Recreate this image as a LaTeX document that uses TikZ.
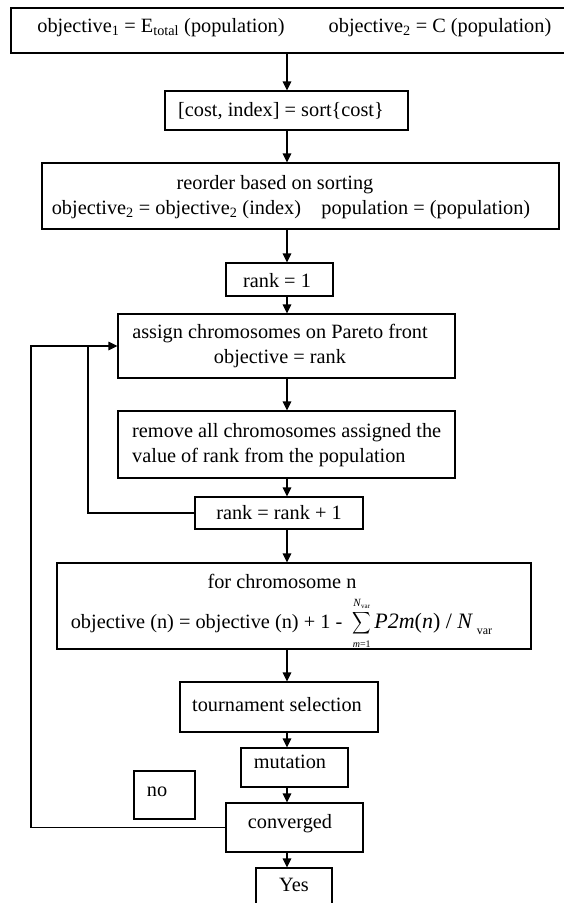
\documentclass[tikz,border=0pt]{standalone}
\usepackage{fontspec}
\usepackage{amsmath}
\usepackage{graphicx}
\setmainfont{Liberation Serif}
\usetikzlibrary{arrows.meta}

\tikzset{
  box/.style={draw, line width=1.1pt, rectangle, inner sep=0pt},
  txt/.style={inner sep=0pt, font=\fontsize{20.3}{25}\selectfont},
  flow/.style={line width=1.1pt, -{Triangle[length=9pt,width=8.5pt]}},
  link/.style={line width=1.1pt},
}

% summation with its limits, sized to sit in a text line
\newcommand{\sumvar}{$\mathop{\vcenter{\hbox{\scalebox{0.62}[0.74]{$\displaystyle\sum$}}}}\limits_{\mbox{\fontsize{10}{10}\selectfont\textit{m}=1}}^{\mbox{\fontsize{11}{11}\selectfont\textit{N}\raisebox{-0.35ex}{\fontsize{7}{7}\selectfont var}}}$}

\begin{document}
\begin{tikzpicture}[x=1pt,y=-1pt]
\useasboundingbox (0,0) rectangle (563,903);
\fill[white] (0,0) rectangle (563,903);

% main vertical axis and loop columns
\coordinate (axis) at (287,0);
\coordinate (outer) at (31,346);
\coordinate (inner) at (88,346);

% boxes
\node[box, minimum width=559pt, minimum height=45pt] (top)   at (290.5,30.5) {};
\node[box, minimum width=243pt, minimum height=39pt] (sort)  at (286.5,110.5) {};
\node[box, minimum width=517pt, minimum height=66pt] (reord) at (300.5,196) {};
\node[box, minimum width=107pt, minimum height=33pt] (rone)  at (279.5,279.5) {};
\node[box, minimum width=337pt, minimum height=64pt] (assign) at (286.5,346) {};
\node[box, minimum width=337pt, minimum height=67pt] (remove) at (286.5,444.5) {};
\node[box, minimum width=168pt, minimum height=32pt] (rinc)  at (279,513) {};
\node[box, minimum width=474pt, minimum height=86pt] (chrom) at (294,606) {};
\node[box, minimum width=198pt, minimum height=50pt] (tourn) at (279,707) {};
\node[box, minimum width=107pt, minimum height=39pt] (mut)   at (294.5,767.5) {};
\node[box, minimum width=61pt,  minimum height=48pt] (nobox) at (164.5,795) {};
\node[box, minimum width=137pt, minimum height=49pt] (conv)  at (294.5,827.5) {};
\node[box, minimum width=76pt,  minimum height=44pt] (yes)   at (294,890) {};

% texts
\node[txt] (t1a) at (161,28) {objective\textsubscript{1} = E\textsubscript{total} (population)};
\node[txt] (t1b) at (440,28) {objective\textsubscript{2} = C (population)};
\node[txt] (tsort) at (281,111) {[cost, index] = sort\{cost\}};
\node[txt] (tr1) at (275,185) {reorder based on sorting};
\node[txt] (tr2) at (291,210) {objective\textsubscript{2} = objective\textsubscript{2} (index)\quad population = (population)};
\node[txt] (tone) at (277,281) {rank = 1};
\node[txt, align=center] (tassign) at (280,346) {assign chromosomes on Pareto front\\objective = rank};
\node[txt, align=left, anchor=west] (tremove) at (132,445.5) {remove all chromosomes assigned the\\value of rank from the population};
\node[txt] (tinc) at (279,513) {rank = rank + 1};
\node[txt] (tfor) at (282,581) {for chromosome n};
\node[txt, anchor=base] (tform) at (281.5,628) {objective (n) = objective (n) + 1 -\ \ \sumvar\,{\fontsize{22}{22}\selectfont\textit{P2m}(\textit{n}) / \textit{N}\,\raisebox{-0.6ex}{\fontsize{12}{12}\selectfont var}}};
\node[txt] (ttourn) at (277,705) {tournament selection};
\node[txt] (tmut) at (290,762) {mutation};
\node[txt] (tno) at (157,792) {no};
\node[txt] (tconv) at (290,824) {converged};
\node[txt] (tyes) at (294,885) {Yes};

% main flow
\draw[flow] (top.south -| axis)    -- (sort.north -| axis);
\draw[flow] (sort.south -| axis)   -- (reord.north -| axis);
\draw[flow] (reord.south -| axis)  -- (rone.north -| axis);
\draw[flow] (rone.south -| axis)   -- (assign.north -| axis);
\draw[flow] (assign.south -| axis) -- (remove.north -| axis);
\draw[flow] (remove.south -| axis) -- (rinc.north -| axis);
\draw[flow] (rinc.south -| axis)   -- (chrom.north -| axis);
\draw[flow] (chrom.south -| axis)  -- (tourn.north -| axis);
\draw[flow] (tourn.south -| axis)  -- (mut.north -| axis);
\draw[flow] (mut.south -| axis)    -- (conv.north -| axis);
\draw[flow] (conv.south -| axis)   -- (yes.north -| axis);

% loops back to the ranking step
\draw[flow] (conv.west) -| (outer) -- (assign.west);
\draw[link] (rinc.west) -| (inner);
\end{tikzpicture}
\end{document}
